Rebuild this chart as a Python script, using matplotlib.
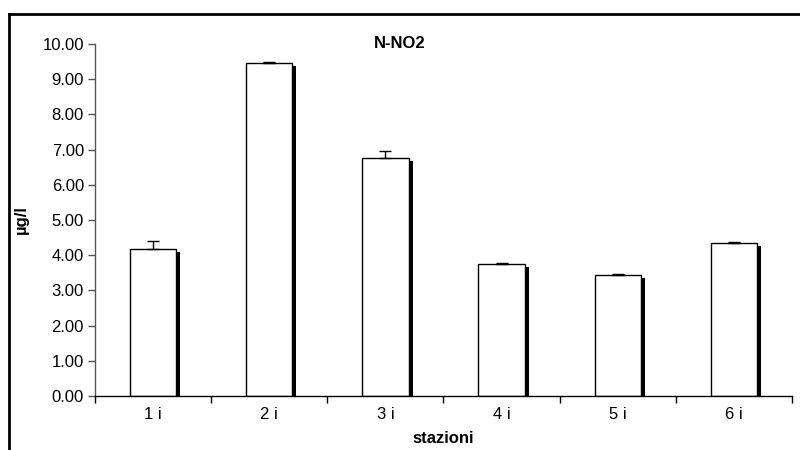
import matplotlib
matplotlib.use("Agg")
import matplotlib.pyplot as plt
from matplotlib.lines import Line2D
import numpy as np

plt.rcParams['font.family'] = ['Liberation Sans', 'DejaVu Sans']

categories = ["1 i", "2 i", "3 i", "4 i", "5 i", "6 i"]
values = [4.18, 9.47, 6.76, 3.75, 3.44, 4.36]
errors = [0.23, 0.02, 0.20, 0.02, 0.02, 0.02]
yticks = [0, 1, 2, 3, 4, 5, 6, 7, 8, 9, 10]

fig = plt.figure(figsize=(8, 4.5), dpi=100)
ax = fig.add_axes([95/800, 54/450, (792-95)/800, (396-44)/450])

x = np.arange(len(categories))
w = 0.40
dx = 4/116.2
dy = 3/35.2

# shadow
ax.bar(x + dx, np.array(values) - dy, width=w, bottom=0, color='black',
       edgecolor='black', linewidth=0, zorder=1)
ax.bar(x, values, width=w, color='white', edgecolor='black', linewidth=1.0,
       zorder=2, yerr=[np.zeros(len(errors)), errors],
       error_kw=dict(ecolor='black', elinewidth=1.0, capsize=4.3, capthick=1.0, zorder=3))

ax.set_xlim(-0.5, len(categories) - 0.5)
ax.set_ylim(0, 10)
ax.set_yticks(yticks)
ax.set_yticklabels([f"{v:.2f}" for v in yticks], fontsize=12)
ax.set_xticks(np.arange(-0.5, len(categories), 1.0))
ax.set_xticklabels([])
ax.set_xticks(x, minor=True)
ax.set_xticklabels(categories, minor=True, fontsize=12)
ax.tick_params(axis='x', which='minor', length=0, pad=8)
ax.tick_params(axis='x', which='major', direction='out', length=5, width=1, color='black')
ax.tick_params(axis='y', direction='out', length=5, width=1, color='#555555', pad=3)

for s in ['top', 'right']:
    ax.spines[s].set_visible(False)
ax.spines['left'].set_color('#555555')
ax.spines['left'].set_linewidth(1.0)
ax.spines['bottom'].set_color('black')
ax.spines['bottom'].set_linewidth(1.0)

fig.text(400/800, 1 - 44/450, "N-NO2", fontsize=12, fontweight='bold',
         ha='center', va='center')
ax.set_ylabel("µg/l", fontsize=12, fontweight='bold', labelpad=10)
ax.xaxis.set_label_coords((432-95)/(792-95), -0.10)
ax.set_xlabel("stazioni", fontsize=12, fontweight='bold')

# outer frame (left & top visible)
fig.add_artist(Line2D([9/800, 9/800], [0, 1 - 14/450], transform=fig.transFigure,
                      color='black', linewidth=2))
fig.add_artist(Line2D([9/800, 1], [1 - 14/450, 1 - 14/450], transform=fig.transFigure,
                      color='black', linewidth=2))

fig.savefig("out.png", dpi=100, facecolor='white')
